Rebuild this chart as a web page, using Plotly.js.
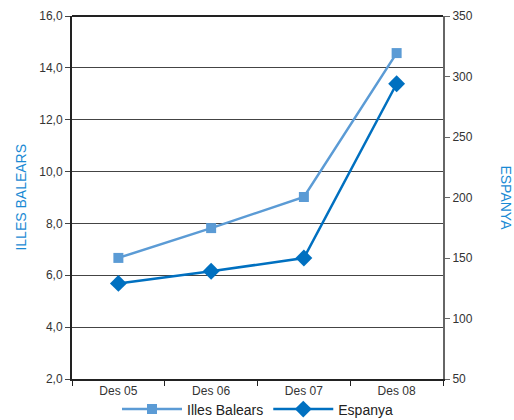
<!DOCTYPE html>
<html>
<head>
<meta charset="utf-8">
<script src="https://cdn.plot.ly/plotly-3.0.1.min.js"></script>
<style>html,body{margin:0;padding:0;background:#fff;}#chart{width:514px;height:420px;}</style>
</head>
<body>
<div id="chart"></div>
<script>
var categories = ["Des 05", "Des 06", "Des 07", "Des 08"];
var illesBalears = [6.67, 7.82, 9.02, 14.57];
var espanya = [129, 139, 150, 294];
var leftTicks = [2, 4, 6, 8, 10, 12, 14, 16];
var rightTicks = [50, 100, 150, 200, 250, 300, 350];

var fontFam = "Liberation Sans, Arial, sans-serif";
var traces = [
  {x: categories, y: illesBalears, name: "Illes Balears", type: "scatter", mode: "lines+markers",
   line: {color: "#5b9bd5", width: 2.5}, marker: {symbol: "square", size: 10, color: "#5b9bd5"}, yaxis: "y"},
  {x: categories, y: espanya, name: "Espanya", type: "scatter", mode: "lines+markers",
   line: {color: "#0070c0", width: 2.5}, marker: {symbol: "diamond", size: 13, color: "#0070c0"}, yaxis: "y2"}
];
var layout = {
  width: 514, height: 420,
  margin: {l: 72, r: 71, t: 16, b: 41, autoexpand: false},
  paper_bgcolor: "#fff", plot_bgcolor: "#fff",
  separators: ",.",
  font: {family: fontFam, size: 12, color: "#333"},
  showlegend: true,
  legend: {orientation: "h", x: 0.5, xanchor: "center", y: -0.04, yanchor: "top",
           font: {size: 14, color: "#222"}, itemwidth: 60, tracegroupgap: 0, bgcolor: "rgba(0,0,0,0)"},
  xaxis: {type: "category", range: [-0.5, 3.5], tickson: "boundaries", ticks: "outside", ticklen: 5,
          tickcolor: "#222", showgrid: false, showline: true, linecolor: "#222", linewidth: 2,
          tickfont: {size: 12, color: "#333"}, fixedrange: true, zeroline: false},
  yaxis: {range: [2, 16], tickvals: leftTicks, tickformat: ".1f", ticks: "outside", ticklen: 5,
          tickcolor: "#444", showline: true, linecolor: "#222", linewidth: 2, showgrid: true,
          gridcolor: "#444", gridwidth: 1, zeroline: false, tickfont: {size: 12, color: "#333"}},
  yaxis2: {range: [50, 350], tickvals: rightTicks, overlaying: "y", side: "right", ticks: "outside",
           ticklen: 5, tickcolor: "#666", showline: true, linecolor: "#666", linewidth: 2, showgrid: false,
           zeroline: false, tickfont: {size: 12, color: "#333"}},
  shapes: [{type: "line", xref: "paper", yref: "paper", x0: 0, x1: 1, y0: 1, y1: 1, line: {color: "#222", width: 2}}],
  annotations: [
    {text: "ILLES BALEARS", xref: "paper", yref: "paper", x: -0.14, y: 0.5, textangle: -90, showarrow: false,
     font: {size: 14, color: "#1a8ad4"}, xanchor: "center", yanchor: "middle"},
    {text: "ESPANYA", xref: "paper", yref: "paper", x: 1.17, y: 0.5, textangle: 90, showarrow: false,
     font: {size: 14, color: "#1a8ad4"}, xanchor: "center", yanchor: "middle"}
  ]
};
Plotly.newPlot("chart", traces, layout, {displayModeBar: false, staticPlot: true});
</script>
</body>
</html>
